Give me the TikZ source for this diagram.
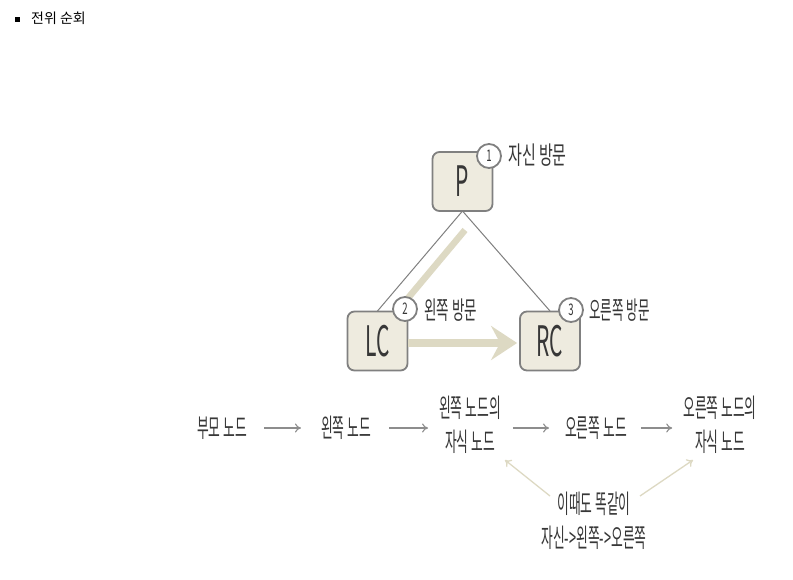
\documentclass[tikz,border=0pt]{standalone}
\usepackage{fontspec}
\setmainfont{Noto Sans CJK KR}
\usetikzlibrary{arrows.meta}
\definecolor{boxfill}{RGB}{238,235,223}
\definecolor{boxline}{RGB}{128,128,128}
\definecolor{beige}{RGB}{221,217,195}
\definecolor{txt}{RGB}{55,55,55}
\newcommand{\cond}[2][0.49]{\scalebox{#1}[1]{#2}}
\begin{document}
\begin{tikzpicture}[x=1pt,y=-1pt,
  box/.style={draw=boxline, line width=1.8pt, fill=boxfill, rounded corners=7pt,
    minimum width=60pt, minimum height=59pt, inner sep=0pt, text=txt,
    font=\fontsize{42}{44}\selectfont},
  num/.style={circle, draw=boxline, line width=1.8pt, fill=white, minimum size=24pt,
    inner sep=0pt, text=txt, font=\fontsize{16}{17}\selectfont},
  lbl/.style={text=txt, font=\fontsize{25}{27}\selectfont, inner sep=0pt, anchor=west},
  word/.style={text=txt, font=\fontsize{26}{34}\selectfont, align=center, inner sep=0pt},
  thin/.style={draw=boxline, line width=1pt},
  harrow/.style={draw=boxline!90, line width=1.1pt, -{To[length=6pt,width=9pt]}},
  barrow/.style={draw=beige, line width=1.3pt, -{To[length=6pt,width=9pt]}}
]
\useasboundingbox[fill=white] (0,0) rectangle (793,579);

% title
\node[fill=black, minimum size=5pt, inner sep=0pt] (bul) at (17,19) {};
\node[anchor=west, inner sep=0pt, font=\fontsize{14}{16}\selectfont] (title) at (31,18) {전위 순회};

% thin connectors
\coordinate (pb) at (462.5,211);
\coordinate (lct) at (377.5,311);
\coordinate (rct) at (550,311);
\draw[thin] (pb) -- (lct);
\draw[thin] (pb) -- (rct);

% thick beige path
\coordinate (ts) at (465,230);
\coordinate (te) at (398,310);
\draw[beige, line width=6.5pt] (ts) -- (te);

% boxes
\node[box] (P) at (462.5,181.5) {\cond[0.5]{P}};
\node[box] (LC) at (377.5,341) {\cond[0.5]{LC}};
\node[box] (RC) at (550,341) {\cond[0.5]{RC}};

% thick arrow
\draw[beige, line width=8pt, -{Stealth[length=26pt,width=34pt,inset=9pt]}] ([yshift=-2pt]LC.east) -- ([yshift=-2pt,xshift=-2pt]RC.west);

% number circles
\node[num] (n1c) at (489,156) {\cond[0.6]{1}};
\node[num] (n2c) at (405,309) {\cond[0.6]{2}};
\node[num] (n3c) at (571,310) {\cond[0.6]{3}};

% labels
\node[lbl] (l1) at (508,155) {\cond[0.6]{자신 방문}};
\node[lbl] (l2) at (424,310) {\cond[0.54]{왼쪽 방문}};
\node[lbl] (l3) at (589,310) {\cond[0.5]{오른쪽 방문}};

% bottom sequence
\node[word] (b1) at (222,428) {\cond{부모 노드}};
\node[word] (b2) at (346,428) {\cond{왼쪽 노드}};
\node[word] (b3) at (470,425) {\cond{왼쪽 노드의}\\\cond{자식 노드}};
\node[word] (b4) at (596,428) {\cond{오른쪽 노드}};
\node[word] (b5) at (720,425) {\cond{오른쪽 노드의}\\\cond{자식 노드}};
\node[word] (b6) at (594,521) {\cond{이때도 똑같이}\\\cond{자신->왼쪽->오른쪽}};

\draw[harrow] ([xshift=17pt]b1.east) -- ([xshift=-20pt]b2.west);
\draw[harrow] ([xshift=18pt]b2.east) -- ([xshift=-11pt]b3.west |- b2.east);
\draw[harrow] ([xshift=12pt]b3.east |- b4.west) -- ([xshift=-16pt]b4.west);
\draw[harrow] ([xshift=14pt]b4.east) -- ([xshift=-11pt]b5.west |- b4.east);

\coordinate (d1s) at (550,496);
\coordinate (d1e) at (505,460);
\coordinate (d2s) at (640,496);
\coordinate (d2e) at (693,460);
\draw[barrow] (d1s) -- (d1e);
\draw[barrow] (d2s) -- (d2e);
\end{tikzpicture}
\end{document}
